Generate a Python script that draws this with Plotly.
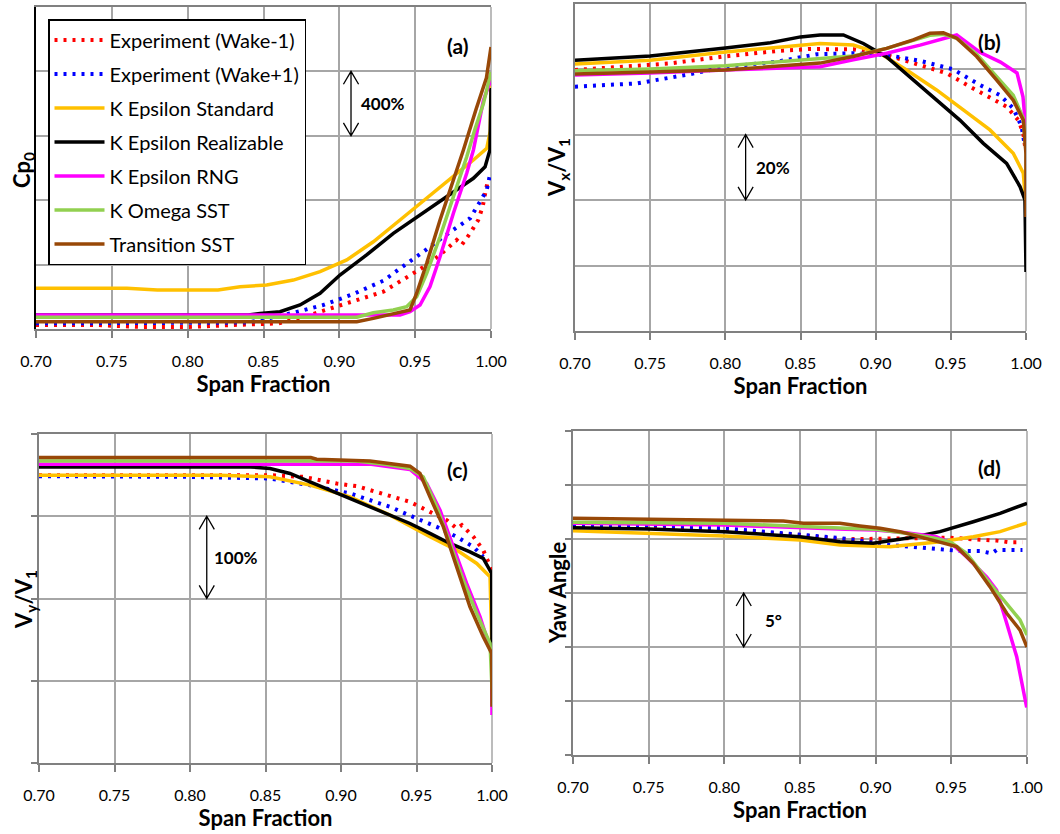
import plotly.graph_objects as go

# ---------------- Series names and colours ----------------
series_names = ["Experiment (Wake-1)", "Experiment (Wake+1)", "K Epsilon Standard",
                "K Epsilon Realizable", "K Epsilon RNG", "K Omega SST", "Transition SST"]
series_colors = ["#FF0000", "#0000FF", "#FFC000", "#000000", "#FF00FF", "#92D050", "#984807"]

span_ticks = [0.70, 0.75, 0.80, 0.85, 0.90, 0.95, 1.00]

# ---------------- (a) Cp0 ----------------
cp_span_wm1 = [0.70, 0.74, 0.77, 0.80, 0.83, 0.86, 0.875, 0.8873, 0.907, 0.929, 0.9488, 0.9576, 0.9664, 0.9774, 0.9807, 0.9862, 0.9916, 0.9945, 0.9965, 0.998]
cp_wm1 = [0.25, 0.25, 0.12, 0.12, 0.25, 0.35, 0.7, 1.07, 1.60, 2.32, 3.46, 3.98, 4.60, 5.53, 5.22, 5.94, 6.77, 7.6, 8.6, 9.2]
cp_span_wp1 = [0.70, 0.75, 0.80, 0.84, 0.855, 0.8697, 0.8894, 0.9092, 0.929, 0.9422, 0.9554, 0.9686, 0.9796, 0.9862, 0.9928, 0.9972, 0.9993]
cp_wp1 = [0.35, 0.35, 0.35, 0.4, 0.7, 1.01, 1.49, 2.17, 3.0, 3.87, 4.80, 5.73, 6.46, 6.88, 7.91, 8.63, 9.57]
cp_span_kes = [0.70, 0.76, 0.78, 0.82, 0.8346, 0.8521, 0.8697, 0.8873, 0.9049, 0.9224, 0.94, 0.9576, 0.9752, 0.9884, 0.9972, 0.9995, 1.0]
cp_kes = [2.53, 2.53, 2.42, 2.42, 2.63, 2.73, 3.04, 3.56, 4.29, 5.42, 6.77, 8.12, 9.46, 10.5, 11.22, 12.3, 15.65]
cp_span_ker = [0.70, 0.80, 0.84, 0.8477, 0.8609, 0.8741, 0.8873, 0.9004, 0.918, 0.9356, 0.9532, 0.9708, 0.9884, 0.9961, 0.9993, 1.0]
cp_ker = [0.87, 0.87, 0.87, 0.97, 1.07, 1.49, 2.22, 3.35, 4.60, 5.94, 7.08, 8.22, 9.36, 10.08, 11.12, 14.97]
cp_span_rng = [0.70, 0.80, 0.90, 0.94, 0.9466, 0.9532, 0.9598, 0.9664, 0.9752, 0.984, 0.9884, 0.995, 1.0]
cp_rng = [0.87, 0.87, 0.87, 0.87, 1.07, 1.49, 2.63, 4.49, 7.19, 9.67, 11.12, 14.2, 15.5]
cp_span_sst = [0.70, 0.80, 0.90, 0.9115, 0.9224, 0.9356, 0.9444, 0.951, 0.9576, 0.9664, 0.9752, 0.984, 0.9894, 0.995, 1.0]
cp_sst = [0.73, 0.73, 0.73, 0.73, 1.01, 1.18, 1.39, 2.01, 3.46, 5.73, 8.22, 10.7, 12.4, 14.0, 15.96]
cp_span_tsst = [0.70, 0.80, 0.90, 0.9115, 0.9224, 0.9356, 0.9466, 0.951, 0.9576, 0.9664, 0.9752, 0.9818, 0.99, 0.997, 1.0]
cp_tsst = [0.45, 0.45, 0.45, 0.45, 0.66, 0.93, 1.18, 2.22, 4.08, 6.77, 9.25, 11.12, 13.6, 15.6, 17.52]

# ---------------- (b) Vx/V1 ----------------
vx_span_wm1 = [0.70, 0.763, 0.7987, 0.834, 0.856, 0.8851, 0.9073, 0.9295, 0.9472, 0.9627, 0.976, 0.9871, 0.9949, 0.9982, 0.9995]
vx_wm1 = [0.997, 1.017, 1.038, 1.055, 1.061, 1.060, 1.043, 1.012, 0.987, 0.946, 0.911, 0.885, 0.844, 0.804, 0.76]
vx_span_wp1 = [0.70, 0.741, 0.774, 0.801, 0.834, 0.861, 0.8851, 0.9073, 0.9295, 0.9516, 0.9694, 0.9827, 0.9915, 0.9971, 0.9993]
vx_wp1 = [0.946, 0.956, 0.982, 1.007, 1.022, 1.045, 1.048, 1.043, 1.025, 0.999, 0.951, 0.920, 0.880, 0.824, 0.763]
vx_span_kes = [0.70, 0.75, 0.80, 0.85, 0.863, 0.8851, 0.9027, 0.9206, 0.9405, 0.9583, 0.976, 0.9915, 0.9982, 1.0]
vx_kes = [1.015, 1.027, 1.052, 1.073, 1.078, 1.073, 1.048, 0.997, 0.936, 0.875, 0.814, 0.743, 0.682, 0.58]
vx_span_ker = [0.70, 0.75, 0.80, 0.83, 0.85, 0.863, 0.8785, 0.8918, 0.9073, 0.925, 0.9405, 0.956, 0.9716, 0.9871, 0.996, 0.9993, 1.0]
vx_ker = [1.027, 1.040, 1.064, 1.080, 1.098, 1.104, 1.104, 1.078, 1.037, 0.966, 0.905, 0.844, 0.773, 0.712, 0.641, 0.600, 0.38]
vx_span_rng = [0.70, 0.75, 0.80, 0.863, 0.8851, 0.9073, 0.9295, 0.9472, 0.9539, 0.969, 0.983, 0.994, 0.998, 1.0, 1.0]
vx_rng = [0.982, 0.988, 0.997, 1.007, 1.028, 1.048, 1.073, 1.094, 1.104, 1.052, 1.021, 0.988, 0.915, 0.81, 0.61]
vx_span_sst = [0.70, 0.75, 0.80, 0.86, 0.8851, 0.9073, 0.925, 0.9361, 0.945, 0.9539, 0.9672, 0.9805, 0.9915, 0.9982, 1.0, 1.0]
vx_sst = [0.995, 1.0, 1.010, 1.030, 1.040, 1.063, 1.087, 1.103, 1.106, 1.094, 1.045, 0.976, 0.92, 0.85, 0.75, 0.60]
vx_span_tsst = [0.70, 0.75, 0.80, 0.863, 0.8851, 0.9073, 0.925, 0.9361, 0.945, 0.9539, 0.9672, 0.9805, 0.9915, 0.9982, 1.0, 1.0]
vx_tsst = [0.985, 0.990, 0.997, 1.018, 1.038, 1.063, 1.089, 1.109, 1.111, 1.094, 1.038, 0.966, 0.905, 0.844, 0.74, 0.548]

# ---------------- (c) Vy/V1 ----------------
vy_span_wm1 = [0.70, 0.80, 0.82, 0.853, 0.875, 0.8972, 0.9104, 0.928, 0.9457, 0.9589, 0.97, 0.9766, 0.98, 0.9877, 0.9942, 0.9998]
vy_wm1 = [3.499, 3.499, 3.511, 3.499, 3.479, 3.398, 3.366, 3.277, 3.175, 3.053, 2.953, 2.852, 2.892, 2.750, 2.588, 2.345]
vy_span_wp1 = [0.70, 0.80, 0.853, 0.8795, 0.906, 0.9325, 0.9501, 0.9634, 0.9766, 0.9877, 0.9942]
vy_wp1 = [3.487, 3.479, 3.459, 3.378, 3.277, 3.114, 2.973, 2.871, 2.750, 2.628, 2.507]
vy_span_kes = [0.70, 0.80, 0.82, 0.853, 0.8795, 0.906, 0.9325, 0.9589, 0.9766, 0.9899, 0.9987, 1.0]
vy_kes = [3.499, 3.499, 3.499, 3.479, 3.378, 3.236, 3.013, 2.750, 2.588, 2.426, 2.264, 1.333]
vy_span_ker = [0.70, 0.80, 0.84, 0.853, 0.8662, 0.8795, 0.8927, 0.906, 0.9192, 0.9325, 0.9457, 0.9589, 0.9722, 0.9854, 0.9942, 0.9998, 1.0]
vy_ker = [3.600, 3.600, 3.600, 3.581, 3.52, 3.418, 3.317, 3.216, 3.114, 3.013, 2.912, 2.791, 2.669, 2.567, 2.487, 2.305, 1.373]
vy_span_rng = [0.70, 0.80, 0.92, 0.9457, 0.9567, 0.9656, 0.9744, 0.9832, 0.9921, 0.9998, 1.0]
vy_rng = [3.633, 3.633, 3.633, 3.569, 3.399, 3.074, 2.628, 2.183, 1.778, 1.333, 0.583]
vy_span_sst = [0.70, 0.80, 0.91, 0.93, 0.9457, 0.9545, 0.9634, 0.9722, 0.981, 0.9899, 0.9987, 1.0]
vy_sst = [3.673, 3.673, 3.673, 3.63, 3.58, 3.479, 3.114, 2.669, 2.224, 1.819, 1.454, 0.9]
vy_span_tsst = [0.70, 0.80, 0.88, 0.8839, 0.9192, 0.9457, 0.9523, 0.9589, 0.9678, 0.9766, 0.9854, 0.9942, 0.9998, 1.0]
vy_tsst = [3.714, 3.714, 3.714, 3.694, 3.673, 3.609, 3.52, 3.236, 2.871, 2.385, 1.899, 1.535, 1.333, 0.684]

# ---------------- (d) Yaw angle ----------------
yaw_span_wm1 = [0.70, 0.75, 0.80, 0.85, 0.8764, 0.9205, 0.9491, 0.9711, 0.9799, 0.9887, 0.997]
yaw_wm1 = [61.2, 61.08, 60.83, 60.37, 59.97, 60.06, 60.12, 59.91, 59.85, 59.69, 59.69]
yaw_span_wp1 = [0.70, 0.75, 0.80, 0.8258, 0.8522, 0.878, 0.9095, 0.9359, 0.9557, 0.9689, 0.9767, 0.9799, 0.997]
yaw_wp1 = [61.30, 61.30, 60.99, 60.68, 60.37, 60.06, 59.44, 59.14, 58.89, 58.89, 58.67, 58.98, 58.98]
yaw_span_kes = [0.70, 0.75, 0.80, 0.85, 0.8764, 0.9095, 0.9425, 0.9645, 0.9822, 1.0]
yaw_kes = [60.77, 60.53, 60.28, 59.91, 59.44, 59.29, 59.75, 60.21, 60.68, 61.5]
yaw_span_ker = [0.70, 0.75, 0.80, 0.85, 0.8764, 0.8984, 0.9205, 0.9425, 0.9645, 0.9822, 1.0]
yaw_ker = [61.05, 60.93, 60.68, 60.21, 59.75, 59.60, 60.06, 60.68, 61.60, 62.38, 63.3]
yaw_span_rng = [0.70, 0.80, 0.88, 0.90, 0.92, 0.94, 0.95, 0.96, 0.9733, 0.9799, 0.9866, 0.9932, 0.9998]
yaw_rng = [61.45, 61.30, 60.90, 60.83, 60.58, 60.21, 59.60, 58.36, 56.5, 55.28, 52.19, 49.10, 44.4]
yaw_span_sst = [0.70, 0.80, 0.88, 0.90, 0.92, 0.94, 0.95, 0.96, 0.9755, 0.9866, 0.9954, 1.0]
yaw_sst = [61.55, 61.45, 61.0, 60.90, 60.53, 60.06, 59.66, 58.68, 55.9, 54.05, 52.5, 51.1]
yaw_span_tsst = [0.70, 0.75, 0.80, 0.839, 0.8522, 0.8764, 0.8896, 0.9029, 0.9161, 0.9293, 0.9425, 0.9535, 0.9645, 0.9755, 0.9866, 0.9954, 1.0]
yaw_tsst = [61.92, 61.82, 61.76, 61.67, 61.45, 61.45, 61.20, 60.99, 60.68, 60.21, 59.75, 59.29, 57.75, 55.59, 53.12, 51.57, 50.0]

panels = [
    dict(xa="x", ya="y",
         xs=[cp_span_wm1, cp_span_wp1, cp_span_kes, cp_span_ker, cp_span_rng, cp_span_sst, cp_span_tsst],
         ys=[cp_wm1, cp_wp1, cp_kes, cp_ker, cp_rng, cp_sst, cp_tsst]),
    dict(xa="x2", ya="y2",
         xs=[vx_span_wm1, vx_span_wp1, vx_span_kes, vx_span_ker, vx_span_rng, vx_span_sst, vx_span_tsst],
         ys=[vx_wm1, vx_wp1, vx_kes, vx_ker, vx_rng, vx_sst, vx_tsst]),
    dict(xa="x3", ya="y3",
         xs=[vy_span_wm1, vy_span_wp1, vy_span_kes, vy_span_ker, vy_span_rng, vy_span_sst, vy_span_tsst],
         ys=[vy_wm1, vy_wp1, vy_kes, vy_ker, vy_rng, vy_sst, vy_tsst]),
    dict(xa="x4", ya="y4",
         xs=[yaw_span_wm1, yaw_span_wp1, yaw_span_kes, yaw_span_ker, yaw_span_rng, yaw_span_sst, yaw_span_tsst],
         ys=[yaw_wm1, yaw_wp1, yaw_kes, yaw_ker, yaw_rng, yaw_sst, yaw_tsst]),
]

FONT = "Lato, 'Open Sans', sans-serif"
W, H = 1060, 834

fig = go.Figure()
for p_i, p in enumerate(panels):
    for s_i in range(7):
        experiment = s_i < 2
        line = dict(color=series_colors[s_i], width=4 if experiment else 3.5)
        if experiment:
            line["dash"] = "3px,6px"
        fig.add_trace(go.Scatter(
            x=p["xs"][s_i], y=p["ys"][s_i], mode="lines", name=series_names[s_i],
            line=line, xaxis=p["xa"], yaxis=p["ya"],
            legendgroup=series_names[s_i], showlegend=(p_i == 0),
        ))


def px_dom(a, b, total, flip=False):
    if flip:
        return [1 - b / total, 1 - a / total]
    return [a / total, b / total]


# plot areas in pixels: (left, right, top, bottom)
areas = [(36, 491, 7, 329), (575, 1026, 3.5, 331), (39, 492, 434, 763), (573, 1027, 431, 755)]
y_ranges = [[0, 20], [0.2, 1.2], [0, 4], [40, 70]]
y_dticks = [4, 0.2, 1, 5]
y_ticks_on = [False, False, True, True]
y_line_colors = ["#000000", "#808080", "#808080", "#808080"]

GRID = "#A6A6A6"
for i, (l, r, t, b) in enumerate(areas):
    sfx = "" if i == 0 else str(i + 1)
    fig.layout["xaxis" + sfx] = dict(
        domain=px_dom(l, r, W), anchor="y" + sfx, range=[0.7, 1.0],
        tickvals=span_ticks, tickformat=".2f", automargin=False,
        showgrid=True, gridcolor=GRID, gridwidth=1.5,
        showline=True, linecolor="#808080", linewidth=1.5, mirror=True,
        ticks="outside", ticklen=7, tickcolor="#808080", tickwidth=1.5,
        ticklabelstandoff=10,
        tickfont=dict(family=FONT, size=16, color="#000000"),
        title=dict(text="Span Fraction", standoff=8,
                   font=dict(family=FONT, size=22, color="#000000", weight="bold")),
        zeroline=False, fixedrange=True,
    )
    fig.layout["yaxis" + sfx] = dict(
        domain=px_dom(t, b, H, flip=True), anchor="x" + sfx, range=y_ranges[i],
        dtick=y_dticks[i], tick0=y_ranges[i][0], showticklabels=False, automargin=False,
        showgrid=True, gridcolor=GRID, gridwidth=1.5,
        showline=True, linecolor=y_line_colors[i], linewidth=2,
        ticks="outside" if y_ticks_on[i] else "", ticklen=6, tickcolor="#808080", tickwidth=1.5,
        zeroline=False, fixedrange=True,
    )

# right-hand frame edge of each plot area
for i in range(4):
    sfx = "" if i == 0 else str(i + 1)
    fig.add_shape(type="line", xref=("x" + sfx) + " domain", yref=("y" + sfx) + " domain",
                  x0=1, x1=1, y0=0, y1=1, line=dict(color="#A6A6A6", width=1.5), layer="below")

# y-axis titles
y_titles = ["Cp<sub>0</sub>", "V<sub>x</sub>/V<sub>1</sub>", "V<sub>y</sub>/V<sub>1</sub>", "Yaw Angle"]
y_title_pos = [(23, 170), (558, 168), (25, 600), (557, 593)]
for txt, (tx, ty) in zip(y_titles, y_title_pos):
    fig.add_annotation(text=txt, xref="paper", yref="paper", x=tx / W, y=1 - ty / H,
                       showarrow=False, textangle=-90, xanchor="center", yanchor="middle",
                       font=dict(family=FONT, size=22, color="#000000", weight="bold"))

# panel tags
tags = ["(a)", "(b)", "(c)", "(d)"]
tag_pos = [(470, 31), (1003, 27), (470, 455), (1003, 453)]
for i, (tag, (tx, ty)) in enumerate(zip(tags, tag_pos)):
    l, r, t, b = areas[i]
    sfx = "" if i == 0 else str(i + 1)
    fig.add_annotation(text=tag, xref="x" + sfx + " domain", yref="y" + sfx + " domain",
                       x=(tx - l) / (r - l), y=(b - ty) / (b - t), showarrow=False,
                       font=dict(family=FONT, size=21, color="#000000", weight="bold"))

# scale bars: double-headed arrows with a magnitude label
scale_bars = [
    # x, y_low, y_high, head half-width (x units), head length (y units), label, label x, label y
    (0.9077, 12, 16, 0.005, 0.8, "400%", 0.9288, 14),
    (0.8135, 0.6, 0.8, 0.005, 0.04, "20%", 0.8317, 0.70),
    (0.8111, 2, 3, 0.005, 0.16, "100%", 0.8305, 2.5),
    (0.8128, 50, 55, 0.005, 1.2, "5°", 0.8324, 52.5),
]
for i, (ax, lo, hi, hw, hl, lab, lx, ly) in enumerate(scale_bars):
    sfx = "" if i == 0 else str(i + 1)
    path = (f"M{ax},{lo} L{ax},{hi} "
            f"M{ax - hw},{hi - hl} L{ax},{hi} L{ax + hw},{hi - hl} "
            f"M{ax - hw},{lo + hl} L{ax},{lo} L{ax + hw},{lo + hl}")
    fig.add_shape(type="path", path=path, xref="x" + sfx, yref="y" + sfx,
                  line=dict(color="#000000", width=1.3))
    fig.add_annotation(text=lab, xref="x" + sfx, yref="y" + sfx, x=lx, y=ly,
                       showarrow=False, xanchor="center",
                       font=dict(family=FONT, size=17, color="#000000", weight="bold"))

fig.update_layout(
    width=W, height=H, margin=dict(l=0, r=0, t=0, b=0, autoexpand=False),
    paper_bgcolor="white", plot_bgcolor="white",
    font=dict(family=FONT, color="#000000"),
    legend=dict(x=48 / W, y=1 - 19 / H, xanchor="left", yanchor="top",
                bgcolor="white", bordercolor="#000000", borderwidth=1.5,
                font=dict(family=FONT, size=20, color="#000000"),
                tracegroupgap=5, itemwidth=50),
)

fig.write_html("out.html")
